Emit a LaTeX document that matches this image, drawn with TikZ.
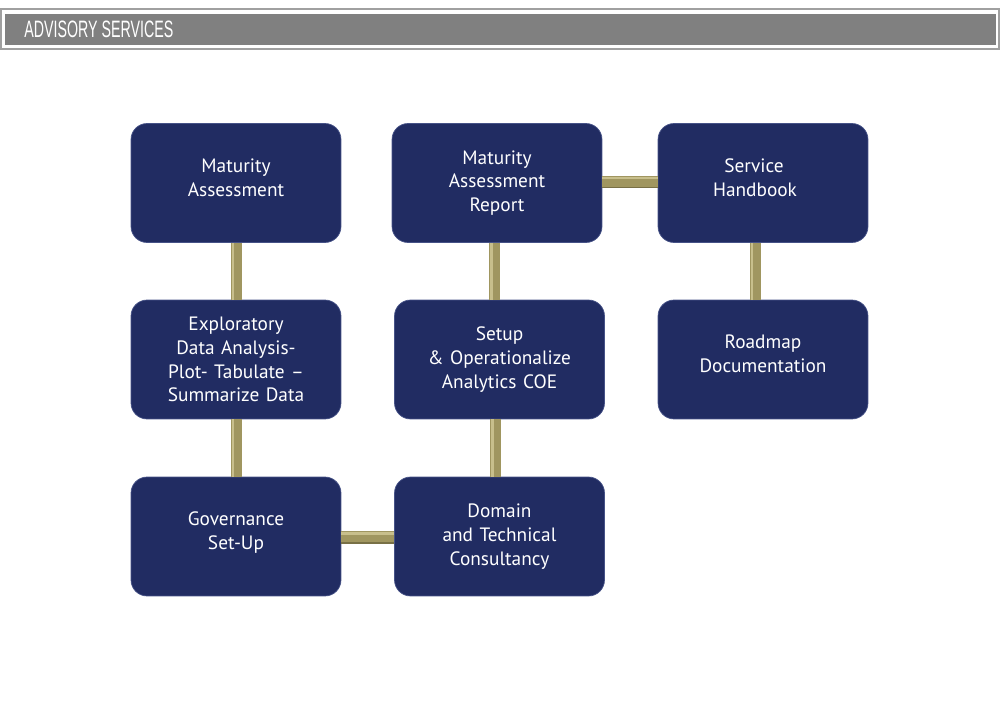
\documentclass[tikz,border=0pt]{standalone}
\usepackage{fontspec}
\setmainfont{PT Sans}
\newfontfamily\headfont[FakeStretch=0.6]{Liberation Sans}
\usepackage{tikz}
\usetikzlibrary{positioning}
\definecolor{navy}{RGB}{33,44,98}
\definecolor{navyline}{RGB}{70,82,135}
\definecolor{gold}{RGB}{160,150,96}
\definecolor{goldlight}{RGB}{200,191,140}
\definecolor{golddark}{RGB}{120,112,70}
\definecolor{headgray}{RGB}{128,128,128}
\definecolor{framegray}{RGB}{160,160,160}

\tikzset{
  service/.style={draw=navyline, line width=0.4pt, fill=navy, rounded corners=0.32cm,
    minimum width=4.2cm, minimum height=2.38cm, text width=3.9cm, align=center,
    text=white, font=\fontsize{11}{13.6}\selectfont},
  twoline/.style={text depth=0.7cm},
  vbar/.style={draw=gold, line width=0.22cm,
    postaction={draw=goldlight, line width=0.05cm, transform canvas={xshift=-0.06cm}}},
  hbar/.style={draw=gold, line width=0.22cm,
    preaction={draw=golddark, line width=0.22cm, transform canvas={yshift=-0.03cm}},
    postaction={draw=goldlight, line width=0.05cm, transform canvas={yshift=0.06cm}}},
}

\begin{document}
\begin{tikzpicture}[x=0.02cm, y=-0.02cm]
		\useasboundingbox (0,0) rectangle (1000,720);
		% titelbalk
		\draw[framegray, line width=0.6pt] (1,9) rectangle (999,49);
		\fill[headgray] (5,14) rectangle (996,45);
		\node[anchor=west, inner sep=0pt, text=white, font=\headfont\fontsize{13.5}{14}\selectfont] (title) at (24,29.5) {ADVISORY SERVICES};
		
		% kolom 1
		\node[service, twoline] (matur) at (236,183) {Maturity\\Assessment};
		\node[service] (explore) at (236,359.5) {Exploratory\\Data Analysis-\\Plot- Tabulate --\\Summarize Data};
		\node[service, twoline] (govern) at (236,536.5) {Governance\\Set-Up};
		
		% kolom 2
		\node[service] (report) at (497,183) {Maturity\\Assessment\\Report};
		\node[service] (setup) at (499.5,359.5) {Setup\\\& Operationalize\\Analytics COE};
		\node[service] (domain) at (499.5,536.5) {Domain\\and Technical\\Consultancy};
		
		% kolom 3
		\node[service, twoline] (handbook) at (763,183) {\mbox{Service\hspace{0.36cm}}\\\mbox{Handbook\hspace{0.32cm}}};
		\node[service, twoline] (roadmap) at (763,359.5) {Roadmap\\Documentation};
		
		% verbindingen
		\draw[vbar] (matur) -- (explore);
		\draw[vbar] (explore) -- (govern);
		\draw[hbar] (govern) -- (domain);
		\draw[vbar] ([xshift=-0.05cm]report.south) -- ([xshift=-0.05cm]report.south |- setup.north);
		\draw[vbar] ([xshift=-0.08cm]setup.south) -- ([xshift=-0.08cm]domain.north);
		\draw[hbar] ([yshift=0.04cm]report.east) -- ([yshift=0.04cm]handbook.west);
		\draw[vbar] ([xshift=-0.16cm]handbook.south) -- ([xshift=-0.16cm]roadmap.north);
	\end{tikzpicture}
\end{document}
